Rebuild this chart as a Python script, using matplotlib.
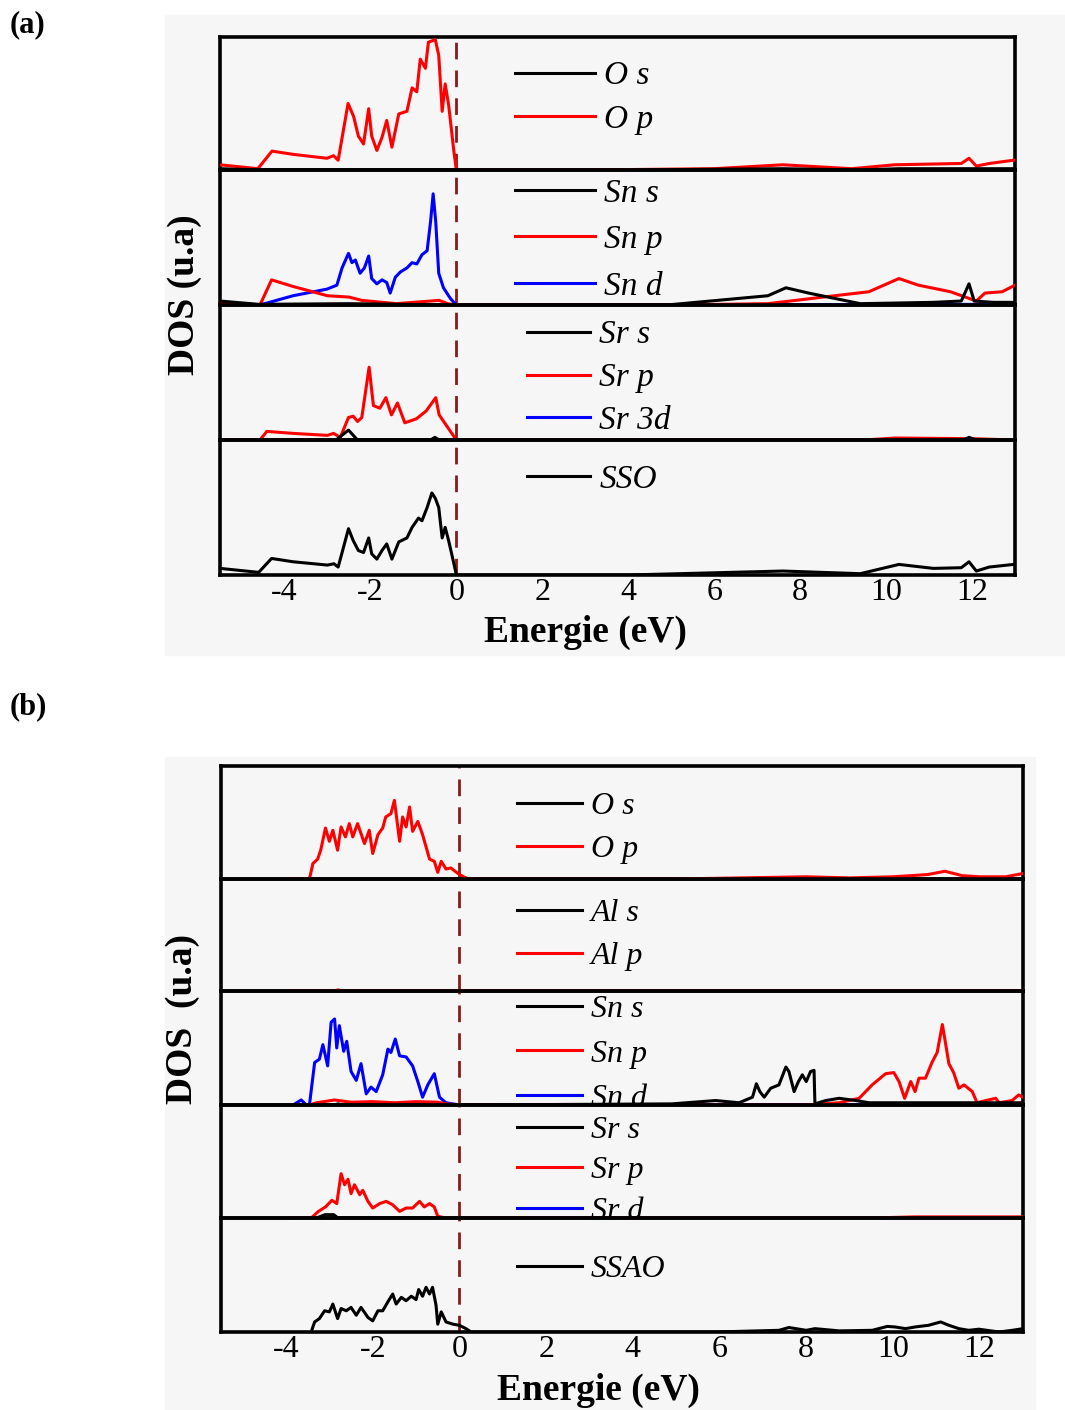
import matplotlib.pyplot as plt
from matplotlib.patches import Rectangle

plt.rcParams['font.family'] = ['Liberation Serif', 'DejaVu Serif']
plt.rcParams['axes.unicode_minus'] = False

# ---- panel (a): SrSnO3 ----
a_os_x = [-5.5, -4.6, 0, 4, 7.6, 9.4, 10.3, 12, 13]
a_os_y = [0.01, 0, 0, 0, 0.01, 0, 0.01, 0.01, 0.01]
a_op_x = [-5.5, -4.62, -4.29, -3.8, -3.01, -2.86, -2.75, -2.52, -2.39, -2.28, -2.16, -2.04, -1.97, -1.85,
          -1.73, -1.62, -1.5, -1.34, -1.15, -1.03, -0.92, -0.84, -0.72, -0.65, -0.49, -0.41, -0.33, -0.26,
          -0.18, -0.06, 0, 3, 6, 7.6, 9.2, 10.2, 11.75, 11.93, 12.1, 12.4, 12.97]
a_op_y = [0.04, 0.01, 0.145, 0.12, 0.09, 0.11, 0.075, 0.51, 0.41, 0.26, 0.2, 0.47, 0.26, 0.15,
          0.25, 0.38, 0.175, 0.43, 0.45, 0.63, 0.60, 0.85, 0.78, 0.98, 1.0, 0.88, 0.45, 0.66,
          0.5, 0.15, 0, 0, 0.01, 0.04, 0.01, 0.04, 0.05, 0.09, 0.03, 0.05, 0.075]

a_sns_x = [-5.5, -4.6, -2.5, 0, 4.9, 7.25, 7.67, 8.2, 8.8, 9.4, 11.1, 11.75, 11.93, 12.05, 12.5, 13]
a_sns_y = [0.03, 0.005, 0.01, 0, 0, 0.07, 0.13, 0.09, 0.05, 0.01, 0.02, 0.03, 0.16, 0.03, 0.02, 0.02]
a_snp_x = [-5.5, -4.57, -4.3, -3.8, -3.0, -2.5, -2.2, -1.4, -0.4, -0.2, 0, 5, 7.25, 8.8, 9.6, 10.3,
           10.75, 11.5, 12.1, 12.3, 12.7, 13]
a_snp_y = [0.02, 0, 0.19, 0.14, 0.07, 0.06, 0.035, 0.01, 0.035, 0.01, 0, 0, 0.01, 0.07, 0.1, 0.2,
           0.15, 0.1, 0.03, 0.09, 0.1, 0.15]
a_snd_x = [-5.5, -4.57, -3.8, -3.01, -2.78, -2.66, -2.51, -2.43, -2.35, -2.24, -2.14, -2.04, -1.97, -1.85,
           -1.73, -1.62, -1.54, -1.42, -1.3, -1.15, -1.03, -0.92, -0.8, -0.68, -0.6, -0.54, -0.48, -0.41,
           -0.3, -0.14, 0, 13]
a_snd_y = [0.02, 0, 0.07, 0.12, 0.15, 0.28, 0.39, 0.32, 0.34, 0.24, 0.28, 0.37, 0.2, 0.16,
           0.19, 0.17, 0.09, 0.21, 0.25, 0.28, 0.32, 0.31, 0.38, 0.41, 0.63, 0.84, 0.63, 0.24,
           0.13, 0.05, 0, 0.005]

a_srs_x = [-5.5, -2.8, -2.51, -2.3, -0.6, -0.5, -0.4, 11.8, 11.93, 12.1, 13]
a_srs_y = [0, 0, 0.075, 0, 0, 0.02, 0, 0, 0.02, 0, 0]
a_srp_x = [-5.5, -4.57, -4.41, -3.8, -3.0, -2.86, -2.7, -2.51, -2.4, -2.3, -2.2, -2.03, -1.93, -1.78,
           -1.64, -1.51, -1.37, -1.2, -0.93, -0.7, -0.48, -0.4, -0.19, 0, 9.5, 10.2, 12, 13]
a_srp_y = [0, 0, 0.065, 0.05, 0.035, 0.05, 0.02, 0.17, 0.18, 0.14, 0.17, 0.55, 0.26, 0.24,
           0.32, 0.19, 0.28, 0.13, 0.16, 0.22, 0.32, 0.19, 0.09, 0, 0, 0.015, 0.01, 0]
a_sr3d_x = [-5.5, 13]
a_sr3d_y = [0, 0]

a_sso_x = [-5.5, -4.6, -4.3, -3.8, -3.0, -2.85, -2.75, -2.51, -2.4, -2.28, -2.16, -2.04, -1.97, -1.85,
           -1.73, -1.62, -1.5, -1.34, -1.15, -1.03, -0.88, -0.8, -0.68, -0.57, -0.49, -0.41, -0.33,
           -0.26, -0.18, -0.06, 0, 4, 7.6, 9.4, 10.3, 11.1, 11.75, 11.93, 12.1, 12.4, 12.97]
a_sso_y = [0.05, 0.02, 0.125, 0.1, 0.075, 0.085, 0.06, 0.35, 0.26, 0.185, 0.17, 0.28, 0.16, 0.12,
           0.185, 0.235, 0.12, 0.25, 0.28, 0.36, 0.43, 0.41, 0.51, 0.62, 0.58, 0.51, 0.28,
           0.36, 0.26, 0.09, 0, 0, 0.03, 0.01, 0.08, 0.05, 0.055, 0.1, 0.03, 0.06, 0.08]

# ---- panel (b): SrSnAlO ----
b_os_x = [-3.85, 13]
b_os_y = [0, 0]
b_op_x = [-3.84, -3.46, -3.38, -3.27, -3.2, -3.09, -3.0, -2.92, -2.81, -2.73, -2.63, -2.54, -2.46, -2.35,
          -2.19, -2.08, -2.0, -1.88, -1.77, -1.7, -1.58, -1.5, -1.38, -1.31, -1.23, -1.15, -1.08, -0.96,
          -0.85, -0.69, -0.58, -0.5, -0.42, -0.31, -0.2, 0, 0.2, 5, 8, 9, 10, 10.8, 11.2, 11.6, 12, 12.6, 13]
b_op_y = [0, 0, 0.14, 0.18, 0.26, 0.46, 0.34, 0.44, 0.26, 0.47, 0.38, 0.5, 0.38, 0.5,
          0.32, 0.44, 0.23, 0.4, 0.46, 0.56, 0.59, 0.71, 0.34, 0.56, 0.47, 0.65, 0.43, 0.52,
          0.4, 0.18, 0.16, 0.06, 0.16, 0.09, 0.1, 0.04, 0, 0, 0.02, 0.01, 0.02, 0.04, 0.07, 0.03, 0.02, 0.02, 0.05]

b_als_x = [-3.85, 13]
b_als_y = [0, 0]
b_alp_x = [-3.85, -2.9, -2.8, -2.7, 13]
b_alp_y = [0, 0, 0.01, 0, 0]

b_sns_x = [-3.85, -2.9, -2.8, -2.7, 0, 4.9, 5.91, 6.45, 6.76, 6.85, 6.93, 7.03, 7.18, 7.37, 7.53, 7.6,
           7.72, 7.82, 7.91, 8.0, 8.1, 8.18, 8.2, 8.45, 8.76, 9.14, 9.45, 13]
b_sns_y = [0, 0, 0.01, 0, 0, 0.01, 0.04, 0.02, 0.07, 0.19, 0.12, 0.07, 0.15, 0.18, 0.34, 0.3,
           0.12, 0.21, 0.27, 0.21, 0.3, 0.31, 0.01, 0.04, 0.06, 0.04, 0.02, 0.02]
b_snp_x = [-3.85, -3.46, -3.3, -2.88, -2.5, -2.0, -1.5, -1.0, -0.5, -0.3, 0, 7.99, 8.76, 9.22, 9.52,
           9.83, 10.02, 10.14, 10.27, 10.41, 10.51, 10.6, 10.75, 10.9, 11.02, 11.14, 11.21, 11.29,
           11.4, 11.52, 11.64, 11.83, 11.94, 12.14, 12.37, 12.45, 12.75, 12.9, 13]
b_snp_y = [0, 0, 0.02, 0.045, 0.025, 0.03, 0.02, 0.03, 0.025, 0.01, 0, 0, 0.02, 0.06, 0.18,
           0.28, 0.29, 0.21, 0.06, 0.21, 0.12, 0.24, 0.24, 0.38, 0.47, 0.72, 0.56, 0.37,
           0.29, 0.15, 0.18, 0.12, 0.02, 0.04, 0.06, 0.02, 0.04, 0.09, 0.07]
b_snd_x = [-3.84, -3.65, -3.53, -3.46, -3.34, -3.23, -3.15, -3.04, -2.96, -2.88, -2.83, -2.77, -2.67,
           -2.6, -2.5, -2.38, -2.27, -2.15, -2.04, -1.92, -1.77, -1.65, -1.58, -1.48, -1.38, -1.23,
           -1.08, -0.96, -0.85, -0.73, -0.58, -0.46, -0.31, 0, 13]
b_snd_y = [0, 0.045, 0, 0, 0.38, 0.41, 0.54, 0.35, 0.74, 0.77, 0.51, 0.71, 0.48,
           0.57, 0.3, 0.22, 0.37, 0.1, 0.16, 0.12, 0.27, 0.5, 0.47, 0.59, 0.44, 0.43,
           0.35, 0.21, 0.07, 0.18, 0.28, 0.07, 0.02, 0, 0.005]

b_srs_x = [-3.85, -3.3, -3.1, -2.9, -2.8, 13]
b_srs_y = [0, 0, 0.03, 0.03, 0, 0]
b_srp_x = [-3.85, -3.42, -3.25, -3.09, -2.94, -2.83, -2.73, -2.65, -2.57, -2.5, -2.42, -2.3, -2.23,
           -2.11, -2.0, -1.84, -1.69, -1.54, -1.38, -1.23, -1.08, -0.92, -0.81, -0.69, -0.58, -0.5,
           -0.31, 9.5, 10.5, 12, 13]
b_srp_y = [0, 0, 0.06, 0.1, 0.16, 0.13, 0.4, 0.3, 0.35, 0.22, 0.3, 0.21, 0.25,
           0.15, 0.09, 0.13, 0.15, 0.12, 0.06, 0.09, 0.09, 0.15, 0.1, 0.13, 0.1, 0.015,
           0, 0, 0.01, 0.01, 0.01]
b_srd_x = [-3.85, 13]
b_srd_y = [0, 0]

b_ssao_x = [-3.42, -3.34, -3.23, -3.11, -3.0, -2.92, -2.81, -2.73, -2.61, -2.5, -2.38, -2.27, -2.11,
            -2.0, -1.88, -1.77, -1.65, -1.54, -1.46, -1.34, -1.23, -1.11, -1.0, -0.94, -0.85, -0.77,
            -0.69, -0.62, -0.54, -0.5, -0.42, -0.31, -0.15, 0, 0.15, 0.27, 5.9, 7.37, 7.6, 8.0, 8.2,
            8.76, 9.52, 9.87, 10.05, 10.29, 10.51, 10.82, 11.1, 11.29, 11.52, 11.75, 11.98, 12.45, 12.75, 13]
b_ssao_y = [0, 0.09, 0.12, 0.19, 0.18, 0.25, 0.12, 0.21, 0.19, 0.22, 0.15, 0.22, 0.13,
            0.1, 0.19, 0.19, 0.27, 0.34, 0.25, 0.31, 0.28, 0.32, 0.29, 0.38, 0.32, 0.4,
            0.34, 0.4, 0.24, 0.07, 0.18, 0.09, 0.07, 0.06, 0.03, 0, 0, 0.015, 0.04, 0.015, 0.03,
            0.01, 0.015, 0.05, 0.045, 0.03, 0.045, 0.06, 0.09, 0.06, 0.03, 0.015, 0.025, 0, 0.015, 0.03]

xticks = [-4, -2, 0, 2, 4, 6, 8, 10, 12]
COLS = ['black', 'red', 'blue']

# each subpanel: curves (x, y, label), legend x, legend top, handlelength, labelspacing
panel_a = [
    ([(a_os_x, a_os_y, 'O s'), (a_op_x, a_op_y, 'O p')], 0.371, 0.82, 2.4, 0.38),
    ([(a_sns_x, a_sns_y, 'Sn s'), (a_snp_x, a_snp_y, 'Sn p'), (a_snd_x, a_snd_y, 'Sn d')], 0.371, 0.94, 2.4, 0.48),
    ([(a_srs_x, a_srs_y, 'Sr s'), (a_srp_x, a_srp_y, 'Sr p'), (a_sr3d_x, a_sr3d_y, 'Sr 3d')], 0.386, 0.89, 1.9, 0.37),
    ([(a_sso_x, a_sso_y, 'SSO')], 0.386, 0.82, 1.9, 0.32),
]
panel_b = [
    ([(b_os_x, b_os_y, 'O s'), (b_op_x, b_op_y, 'O p')], 0.369, 0.774, 2.04, 0.44),
    ([(b_als_x, b_als_y, 'Al s'), (b_alp_x, b_alp_y, 'Al p')], 0.369, 0.826, 2.04, 0.44),
    ([(b_sns_x, b_sns_y, 'Sn s'), (b_snp_x, b_snp_y, 'Sn p'), (b_snd_x, b_snd_y, 'Sn d')], 0.369, 0.969, 2.04, 0.48),
    ([(b_srs_x, b_srs_y, 'Sr s'), (b_srp_x, b_srp_y, 'Sr p'), (b_srd_x, b_srd_y, 'Sr d')], 0.369, 0.907, 2.04, 0.35),
    ([(b_ssao_x, b_ssao_y, 'SSAO')], 0.369, 0.68, 2.04, 0.44),
]

W, H = 1065, 1410
fig = plt.figure(figsize=(W / 100, H / 100), dpi=100)
fig.patch.set_facecolor('white')
fig.patches.append(Rectangle((165 / W, 1 - 655 / H), 900 / W, 640 / H, transform=fig.transFigure,
                             color='#f6f6f6', zorder=-10))
fig.patches.append(Rectangle((165 / W, 0), 870 / W, 1 - 757 / H, transform=fig.transFigure,
                             color='#f6f6f6', zorder=-10))


def draw_stack(subs, left, right, edges, legsize):
    for i, (curves, lx, ly, hl, ls) in enumerate(subs):
        top, bot = edges[i], edges[i + 1]
        ax = fig.add_axes([left / W, 1 - bot / H, (right - left) / W, (bot - top) / H])
        ax.set_facecolor('none')
        for j, (x, y, lab) in enumerate(curves):
            ax.plot(x, y, color=COLS[j], lw=2.2, label=lab, zorder=3 - j * 0.1)
        ax.axvline(0, color='#8b1a1a', lw=2, dashes=(6, 4), zorder=1)
        ax.set_xlim(-5.5, 13)
        ax.set_ylim(0, 1.02)
        ax.set_yticks([])
        ax.set_xticks(xticks)
        ax.tick_params(axis='x', length=0, pad=2, labelsize=23)
        if i < len(subs) - 1:
            ax.tick_params(labelbottom=False)
        for s in ax.spines.values():
            s.set_linewidth(2.6)
        ax.legend(loc='upper left', bbox_to_anchor=(lx, ly), frameon=False, borderpad=0,
                  borderaxespad=0, handlelength=hl, handletextpad=0.27, labelspacing=ls,
                  prop={'family': 'Liberation Serif', 'style': 'italic', 'size': legsize})


draw_stack(panel_a, 220, 1015, [37, 170, 305, 440, 575], 24)
draw_stack(panel_b, 221, 1023, [766, 879, 991, 1105, 1218, 1332], 23)

bold = dict(fontweight='bold', fontsize=27, ha='center', va='center')
fig.text(185 / W, 1 - 295 / H, 'DOS (u.a)', rotation=90, **bold)
fig.text(585 / W, 1 - 632 / H, 'Energie (eV)', **bold)
fig.text(183 / W, 1 - 1019 / H, 'DOS  (u.a)', rotation=90, **bold)
fig.text(598 / W, 1 - 1390 / H, 'Energie (eV)', **bold)
fig.text(10 / W, 1 - 25 / H, '(a)', fontweight='bold', fontsize=22, va='center')
fig.text(10 / W, 1 - 707 / H, '(b)', fontweight='bold', fontsize=22, va='center')

fig.savefig('out.png', dpi=100)
